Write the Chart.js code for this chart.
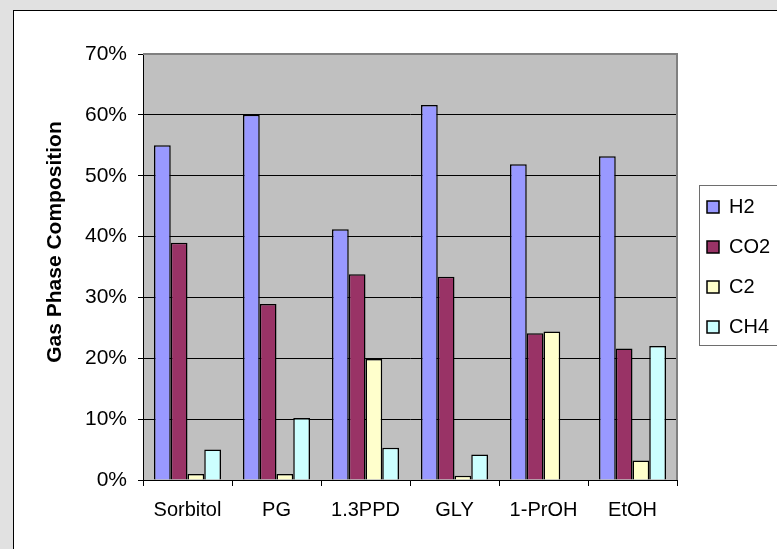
<!DOCTYPE html>
<html><head><meta charset="utf-8">
<script src="https://cdn.jsdelivr.net/npm/chart.js@4/dist/chart.umd.min.js"></script>
<style>
html,body{margin:0;padding:0;background:#e1e1e1;width:777px;height:549px;overflow:hidden}
#panel{position:absolute;left:13px;top:10px;width:820px;height:620px;background:#fff;border:1px solid #000}
#c{position:absolute;left:0;top:0}
</style></head><body>
<div id="panel"></div>
<canvas id="c" width="777" height="549"></canvas>
<script>
const categories = ['Sorbitol', 'PG', '1.3PPD', 'GLY', '1-PrOH', 'EtOH'];
const seriesNames = ['H2', 'CO2', 'C2', 'CH4'];
const h2Values  = [55.0, 60.0, 41.2, 61.6, 51.9, 53.2];
const co2Values = [39.0, 28.9, 33.8, 33.4, 24.1, 21.6];
const c2Values  = [1.0, 1.0, 19.9, 0.7, 24.4, 3.2];
const ch4Values = [5.0, 10.2, 5.3, 4.2, 0, 22.0];
const yTickValues = [0, 10, 20, 30, 40, 50, 60, 70];
const yAxisTitle = 'Gas Phase Composition';

const FONT = "'Liberation Sans', Arial, Helvetica, sans-serif";
const colors = ['#9999ff', '#993366', '#ffffcc', '#ccffff'];
const seriesValues = [h2Values, co2Values, c2Values, ch4Values];

const plotDecor = {
  id: 'plotDecor',
  afterInit(chart) {
    const lg = chart.legend;
    if (lg && !lg._fixedFit) {
      const orig = lg.fit.bind(lg);
      lg.fit = function () { orig(); this.width = 100; };
      lg._fixedFit = true;
    }
  },
  afterLayout(chart) {
    const lg = chart.legend;
    if (lg) { lg.left += 10; lg.right += 10; }
  },
  beforeDraw(chart) {
    const {ctx, chartArea: a} = chart;
    ctx.save();
    ctx.fillStyle = '#c0c0c0';
    ctx.fillRect(a.left, a.top, a.right - a.left, a.bottom - a.top);
    ctx.restore();
  },
  afterDatasetsDraw(chart) {
    const {ctx, chartArea: a} = chart;
    ctx.save();
    ctx.strokeStyle = '#808080';
    ctx.lineWidth = 2;
    ctx.beginPath();
    ctx.moveTo(a.left, a.top);
    ctx.lineTo(a.right, a.top);
    ctx.lineTo(a.right, a.bottom);
    ctx.stroke();
    ctx.restore();
  },
  afterDraw(chart) {
    const {ctx} = chart;
    ctx.save();
    ctx.translate(55, 242);
    ctx.rotate(-Math.PI / 2);
    ctx.font = 'bold 21px ' + FONT;
    ctx.fillStyle = '#000';
    ctx.textAlign = 'center';
    ctx.textBaseline = 'middle';
    ctx.fillText(yAxisTitle, 0, 0);
    ctx.restore();
    ctx.save();
    ctx.strokeStyle = '#6e6e6e';
    ctx.lineWidth = 1;
    ctx.strokeRect(699.5, 185.5, 140, 160);
    ctx.restore();
  }
};

new Chart(document.getElementById('c'), {
  type: 'bar',
  data: {
    labels: categories,
    datasets: seriesNames.map((name, i) => ({
      label: name,
      data: seriesValues[i],
      backgroundColor: colors[i],
      borderColor: '#000',
      borderWidth: 1.5,
      barPercentage: 1.0,
      categoryPercentage: 0.753
    }))
  },
  options: {
    responsive: false,
    devicePixelRatio: 1,
    animation: false,
    layout: {padding: {left: 0, top: 54, right: 0, bottom: 0}},
    plugins: {
      tooltip: {enabled: false},
      legend: {
        position: 'right',
        fullSize: false,
        labels: {
          font: {family: FONT, size: 20},
          color: '#000',
          boxWidth: 12,
          boxHeight: 12,
          padding: 20
        }
      }
    },
    scales: {
      x: {
        afterFit(s) { s.height = 69; },
        grid: {display: true, drawOnChartArea: false, drawTicks: true, tickLength: 6, color: '#000', offset: true},
        border: {display: true, color: '#000', width: 1},
        ticks: {font: {family: FONT, size: 20}, color: '#000', padding: 12, maxRotation: 0, autoSkip: false}
      },
      y: {
        min: 0,
        max: 70,
        afterFit(s) { s.width = 143; },
        afterBuildTicks(s) { s.ticks = yTickValues.map(v => ({value: v})); },
        grid: {color: '#000', lineWidth: 1, tickLength: 5, drawTicks: true},
        border: {display: true, color: '#000', width: 1},
        ticks: {
          font: {family: FONT, size: 21},
          color: '#000',
          padding: 11,
          callback: v => v + '%'
        }
      }
    }
  },
  plugins: [plotDecor]
});
</script>
</body></html>
